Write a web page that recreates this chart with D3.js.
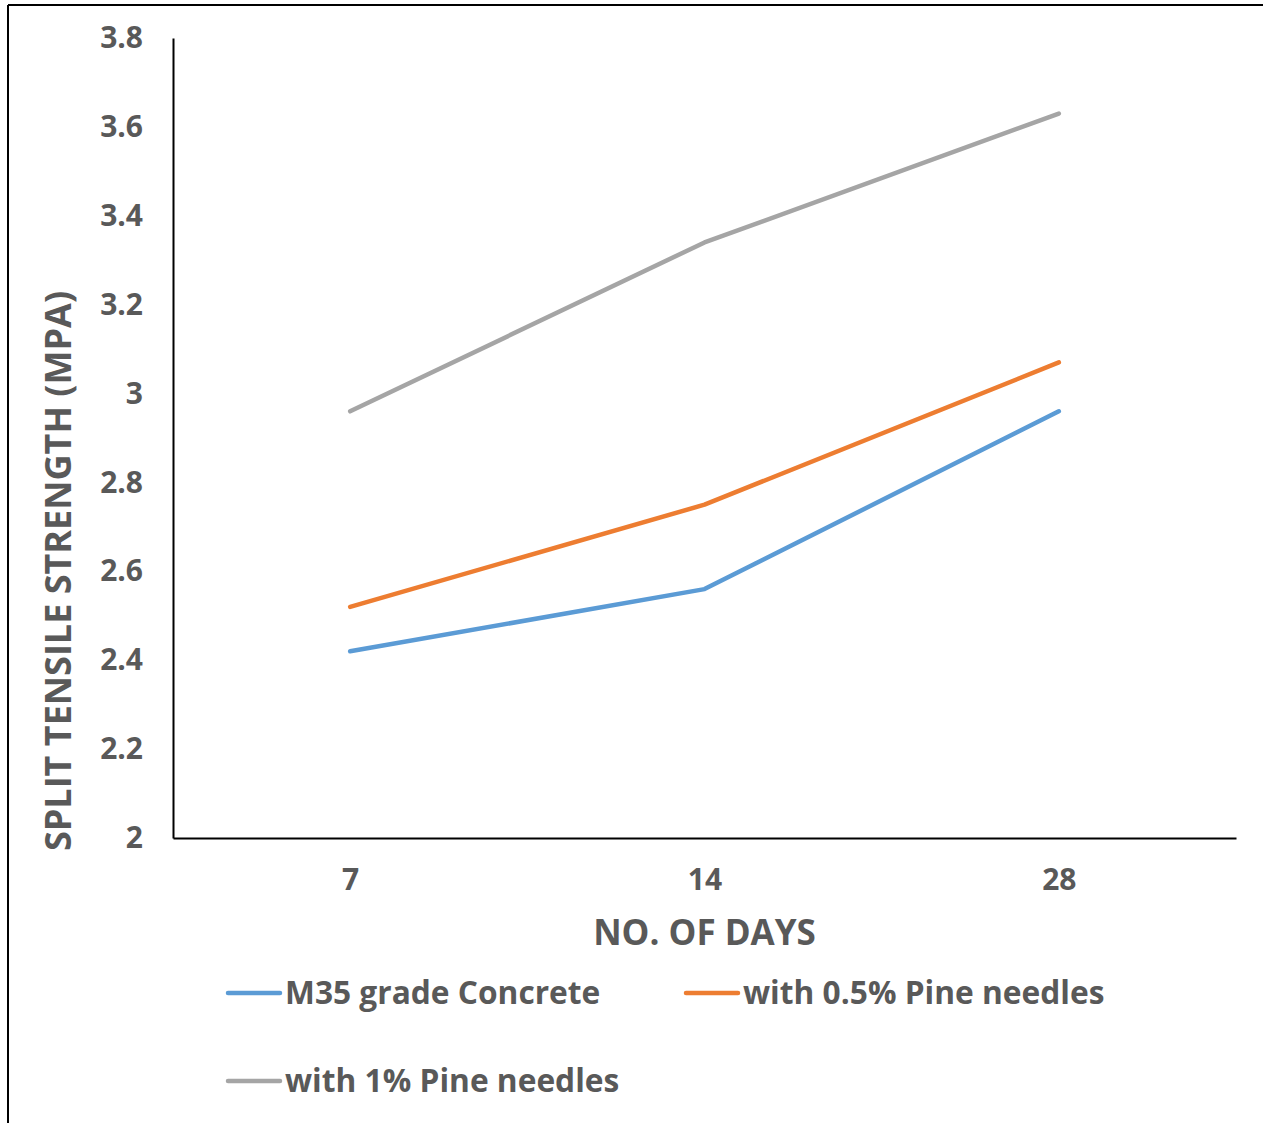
<!DOCTYPE html>
<html>
<head>
<meta charset="utf-8">
<script src="https://cdn.jsdelivr.net/npm/d3@7"></script>
<style>
  body { margin: 0; background: #fff; }
  svg text { font-family: "Open Sans", Lato, sans-serif; font-weight: bold; fill: #595959; }
</style>
</head>
<body>
<div id="chart"></div>
<script>
// data
var days = ["7", "14", "28"];
var m35 = [2.42, 2.56, 2.96];
var pine05 = [2.52, 2.75, 3.07];
var pine1 = [2.96, 3.34, 3.63];
var yTicks = [2, 2.2, 2.4, 2.6, 2.8, 3, 3.2, 3.4, 3.6, 3.8];
var seriesNames = ["M35 grade Concrete", "with 0.5% Pine needles", "with 1% Pine needles"];
var seriesColors = ["#5B9BD5", "#ED7D31", "#A5A5A5"];

var W = 1263, H = 1123;
var margin = {top: 38, right: 27, bottom: 285, left: 173},
    width = W - margin.left - margin.right,
    height = H - margin.top - margin.bottom;

var svg = d3.select("#chart")
  .append("svg")
    .attr("width", W)
    .attr("height", H);

// outer frame (only left and top visible in the picture)
svg.append("line").attr("x1", 8).attr("y1", 5).attr("x2", W).attr("y2", 5)
    .attr("stroke", "#000").attr("stroke-width", 2);
svg.append("line").attr("x1", 8).attr("y1", 5).attr("x2", 8).attr("y2", H)
    .attr("stroke", "#000").attr("stroke-width", 2);

var g = svg.append("g")
    .attr("transform", "translate(" + margin.left + "," + margin.top + ")");

var x = d3.scalePoint()
    .domain(days)
    .range([0, width])
    .padding(0.5);

var y = d3.scaleLinear()
    .domain([2, 3.8])
    .range([height, 0]);

// axes
var xAxis = g.append("g")
    .attr("transform", "translate(0," + height + ")")
    .call(d3.axisBottom(x).tickSize(0).tickPadding(31));
xAxis.select(".domain").attr("stroke", "#000").attr("stroke-width", 2);
xAxis.selectAll("text").style("font-size", "30px");

var yAxis = g.append("g")
    .call(d3.axisLeft(y).tickValues(yTicks).tickSize(0).tickPadding(30)
      .tickFormat(function(d) { return d3.format("")(+d.toFixed(1)); }));
yAxis.select(".domain").attr("stroke", "#000").attr("stroke-width", 2);
yAxis.selectAll("text").style("font-size", "30px");

// lines
var allSeries = [m35, pine05, pine1];
var line = d3.line()
    .x(function(d, i) { return x(days[i]); })
    .y(function(d) { return y(d); });

allSeries.forEach(function(s, i) {
  g.append("path")
    .datum(s)
    .attr("fill", "none")
    .attr("stroke", seriesColors[i])
    .attr("stroke-width", 4.5)
    .attr("stroke-linecap", "round")
    .attr("stroke-linejoin", "round")
    .attr("d", line);
});

// axis titles
svg.append("text")
    .attr("transform", "translate(71,571) rotate(-90)")
    .attr("text-anchor", "middle")
    .style("font-size", "36px")
    .text("SPLIT TENSILE STRENGTH (MPA)");

svg.append("text")
    .attr("x", margin.left + x("14"))
    .attr("y", 945)
    .attr("text-anchor", "middle")
    .style("font-size", "35px")
    .text("NO. OF DAYS");

// legend
var legendPos = [[228, 993], [686, 993], [228, 1081]];
seriesNames.forEach(function(name, i) {
  var lg = svg.append("g")
      .attr("transform", "translate(" + legendPos[i][0] + "," + legendPos[i][1] + ")");
  lg.append("line")
      .attr("x1", 0).attr("x2", 52)
      .attr("stroke", seriesColors[i])
      .attr("stroke-width", 4.5)
      .attr("stroke-linecap", "round");
  lg.append("text")
      .attr("x", 57)
      .attr("dy", "0.35em")
      .style("font-size", "31.7px")
      .text(name);
});
</script>
</body>
</html>
